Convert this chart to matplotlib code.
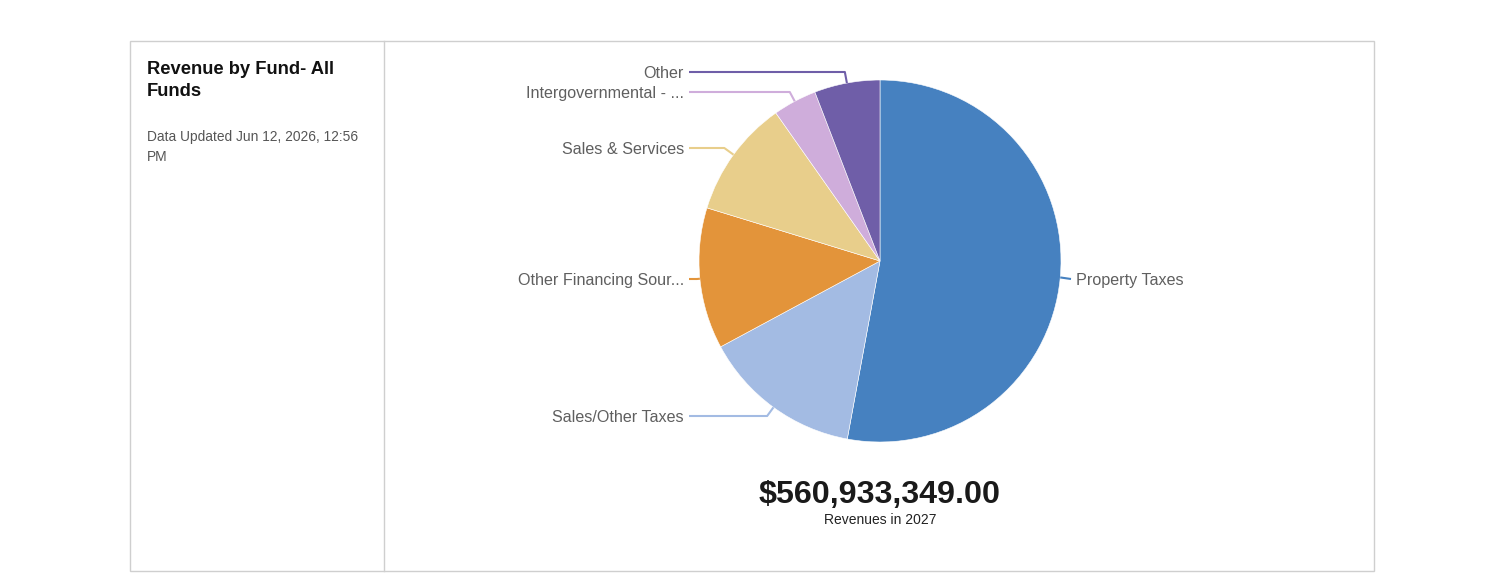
import numpy as np
import matplotlib
matplotlib.use("Agg")
import matplotlib.pyplot as plt
from matplotlib.patches import Rectangle

plt.rcParams['font.family'] = ['Liberation Sans', 'DejaVu Sans']

# data (clockwise from 12 o'clock)
categories = ["Property Taxes", "Sales/Other Taxes", "Other Financing Sour...",
              "Sales & Services", "Intergovernmental - ...", "Other"]
values = [296_700_000, 79_900_000, 70_700_000, 58_900_000, 21_900_000, 32_833_349]
colors = ["#4681c0", "#a3bbe3", "#e3943a", "#e8ce8b", "#cfaddb", "#6f5ea8"]

title_lines = ["Revenue by Fund- All", "Funds"]
updated_lines = ["Data Updated Jun 12, 2026, 12:56", "PM"]
subtitle = "Revenues in 2027"

# layout (pixels, y measured from top)
W, H = 1504, 581
cx, cy, radius = 880, 261, 181
label_y = [279, 416, 279, 148, 92, 72]


def Y(y):
    return H - y


fig = plt.figure(figsize=(W / 100, H / 100), dpi=100)
ax = fig.add_axes([0, 0, 1, 1])
ax.set_xlim(0, W)
ax.set_ylim(0, H)
ax.set_aspect("equal")
ax.axis("off")

# card frame
ax.add_patch(Rectangle((130, Y(571)), 1244, 530, fill=False, edgecolor="#cfcfcf", lw=1))
ax.plot([384, 384], [Y(41), Y(571)], color="#cfcfcf", lw=1)

# left panel text
ax.text(147, Y(69), title_lines[0], fontsize=13.2, fontweight="bold", color="#111111", va="center")
ax.text(147, Y(91), title_lines[1], fontsize=13.2, fontweight="bold", color="#111111", va="center")
ax.text(147, Y(137), updated_lines[0], fontsize=9.9, color="#555555", va="center")
ax.text(147, Y(157), updated_lines[1], fontsize=9.9, color="#555555", va="center")

wedges, _ = ax.pie(values, colors=colors, startangle=90, counterclock=False,
                   center=(cx, Y(cy)), radius=radius,
                   wedgeprops=dict(edgecolor="white", linewidth=0.4))

ax.set_xlim(0, W)
ax.set_ylim(0, H)

# leader lines and labels
for w, name, ly, col in zip(wedges, categories, label_y, colors):
    mid = np.deg2rad((w.theta1 + w.theta2) / 2)
    dx, dy = np.cos(mid), np.sin(mid)
    ex, ey = cx + radius * dx, Y(cy) + radius * dy
    ty = Y(ly)
    t = (ty - ey) / dy if abs(dy) > 1e-6 else 0
    t = max(t, 0)
    kx = ex + t * dx
    if dx < 0:
        ax.plot([ex, kx, 689], [ey, ty, ty], color=col, lw=1.5, solid_capstyle="butt")
        ax.text(684, ty, name, fontsize=11.6, color="#5f5f5f", ha="right", va="center_baseline")
    else:
        ax.plot([ex, 1071], [ey, ty], color=col, lw=1.5, solid_capstyle="butt")
        ax.text(1076, ty, name, fontsize=11.6, color="#5f5f5f", ha="left", va="center_baseline")

total = sum(values)
ax.text(cx, Y(491), f"${total:,.2f}", fontsize=23.2, fontweight="bold", color="#1a1a1a",
        ha="center", va="center_baseline")
ax.text(cx, Y(519), subtitle, fontsize=10, color="#222222", ha="center", va="center_baseline")

fig.savefig("out.png", dpi=100)
